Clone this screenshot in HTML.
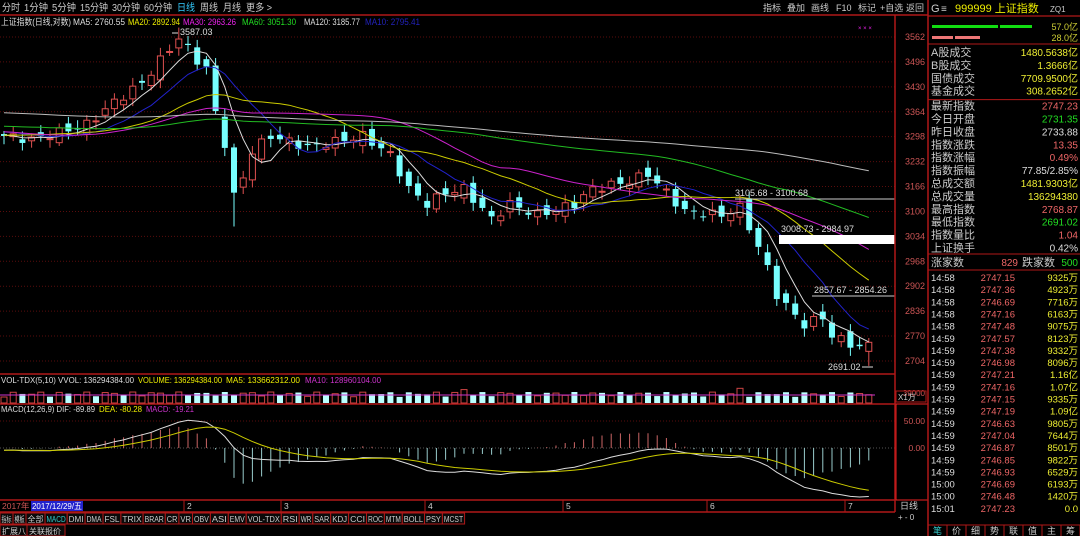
<!DOCTYPE html>
<html><head><meta charset="utf-8"><style>
body{margin:0;background:#000;width:1080px;height:536px;overflow:hidden;font-family:"Liberation Sans","Noto Sans CJK SC",sans-serif;}
svg{position:absolute;left:0;top:0}
text{font-family:"Liberation Sans","Noto Sans CJK SC",sans-serif}
</style></head><body>
<svg id="s" width="1080" height="536" xmlns="http://www.w3.org/2000/svg"></svg>
<script>
var S=[];function a(x){S.push(x)}
function t(x,y,s,c,sz,anc,tl){a('<text x="'+x+'" y="'+y+'" fill="'+c+'" font-size="'+(sz||10)+'"'+(anc?' text-anchor="'+anc+'"':'')+(tl?' textLength="'+tl+'" lengthAdjust="spacingAndGlyphs"':'')+'>'+s+'</text>')}
function l(x1,y1,x2,y2,c,w,d){a('<line x1="'+x1+'" y1="'+y1+'" x2="'+x2+'" y2="'+y2+'" stroke="'+c+'" stroke-width="'+(w||1)+'"'+(d?' stroke-dasharray="'+d+'"':'')+'/>')}
function r(x,y,w,h,f,s){a('<rect x="'+x+'" y="'+y+'" width="'+w+'" height="'+h+'" fill="'+(f||'none')+'"'+(s?' stroke="'+s+'"':'')+'/>')}
var R='#b01818';
var m=[['分时',2,18],['1分钟',24,24],['5分钟',52,24],['15分钟',80,28],['30分钟',112,28],['60分钟',144,28],['日线',177,18],['周线',200,18],['月线',223,18],['更多 >',246,26]];
m.forEach(function(v){t(v[1],11,v[0],v[0]=='日线'?'#3cf':'#ccc',10,null,v[2])});
var btn=['指标','叠加','画线','F10','标记','+自选','返回'];var bx=[763,787,811,836,858,880,906];
btn.forEach(function(b,i){t(bx[i],11,b,'#ccc',9)});
l(0,15,928,15,R,1.5);
t(1,25,'上证指数(日线,对数)','#ddd',9,null,70);t(73,25,'MA5: 2760.55','#ddd',9,null,52);t(128,25,'MA20: 2892.94','#ee0',9,null,52);t(183,25,'MA30: 2963.26','#e2e',9,null,53);t(242,25,'MA60: 3051.30','#2d2',9,null,54);t(304,25,'MA120: 3185.77','#ddd',9,null,56);t(365,25,'MA10: 2795.41','#22b',9,null,55);
t(858,30,'× × ×','#e2e',6);
var Y=function(p){return 37+(3562-p)*0.3776};
[3562,3496,3430,3364,3298,3232,3166,3100,3034,2968,2902,2836,2770,2704].forEach(function(p){var y=Y(p);l(0,y,895,y,'#5a0c0c',1,'1,2');t(925,y+3,p,'#c55',9,'end')});
var key=[[0,3300],[3,3290],[6,3310],[9,3330],[12,3390],[15,3440],[17,3500],[19,3560],[21,3500],[22,3480],[23,3360],[24,3280],[25,3140],[26,3190],[27,3260],[29,3300],[33,3270],[37,3290],[39,3300],[42,3250],[44,3160],[46,3120],[48,3150],[50,3160],[53,3080],[55,3120],[58,3090],[62,3120],[64,3160],[68,3180],[70,3200],[72,3150],[74,3100],[78,3090],[80,3110],[81,3060],[83,2950],[84,2880],[85,2850],[87,2800],[89,2820],[90,2770],[91,2760],[93,2740],[94,2747]];
var N=95,C=[];for(var i=0;i<N;i++){for(var k=0;k<key.length-1;k++){if(i>=key[k][0]&&i<=key[k+1][0]){var f=(i-key[k][0])/(key[k+1][0]-key[k][0]||1);C.push(key[k][1]+(key[k+1][1]-key[k][1])*f+Math.sin(i*2.3)*12);break}}}
var H=[];for(i=0;i<140;i++)H.push(3290+i*1.2+Math.sin(i*0.3)*25);
H=H.reverse();var A=H.concat(C);var O=A.length-N;
function ma(n,i){var s=0;for(var j=i-n+1;j<=i;j++)s+=A[j];return s/n}
var X=function(i){return 4+i*9.2};
for(i=0;i<N;i++){var c=A[O+i],o=A[O+i-1]+Math.cos(i*1.7)*15,hi=Math.max(o,c)+8+Math.abs(Math.sin(i))*14,lo=Math.min(o,c)-8-Math.abs(Math.cos(i*1.3))*14;
if(i==25)lo=3060;if(i==19)hi=3587;if(i==94)lo=2691;
var up=c>=o,col=up?'#e05050':'#7ff';var x=X(i);l(x,Y(hi),x,Y(lo),col);
var y1=Y(Math.max(o,c)),hh=Math.max(1,Y(Math.min(o,c))-y1);
if(up)a('<rect x="'+(x-3)+'" y="'+y1+'" width="6" height="'+hh+'" fill="#000" stroke="'+col+'"/>');else r(x-3,y1,6,hh,col);}
[[5,'#ddd'],[10,'#22c'],[20,'#cc0'],[30,'#c2c'],[60,'#2b2'],[120,'#bbb']].forEach(function(q){var p='';for(i=0;i<N;i++)p+=(i?'L':'M')+X(i).toFixed(1)+','+Y(ma(q[0],O+i)).toFixed(1);a('<path d="'+p+'" fill="none" stroke="'+q[1]+'" stroke-width="1"/>')});
t(180,35,'3587.03','#ddd',9);l(172,33,178,33,'#ddd');
t(828,370,'2691.02','#ddd',9);l(862,367,873,367,'#ddd');
r(779,235,116,9,'#fff');t(781,232,'3008.73 - 2984.97','#ddd',9);
l(735,199,895,199,'#ccc');t(735,196,'3105.68 - 3100.68','#ddd',9);
l(812,296,895,296,'#ccc');t(814,293,'2857.67 - 2854.26','#ddd',9);
l(0,374,895,374,R,1.5);l(0,404,895,404,R,1.5);l(0,500,895,500,R,1.5);l(0,512,895,512,R,1.5);
t(1,383,'VOL-TDX(5,10) VVOL: 136294384.00','#ddd',8.5,null,133);t(138,383,'VOLUME: 136294384.00','#ee0',8.5,null,84);t(226,383,'MA5: 133662312.00','#ee0',8.5,null,74);t(305,383,'MA10: 128960104.00','#c3c',8.5,null,76);
for(i=0;i<N;i++){var up=A[O+i]>=A[O+i-1];var h=6+Math.abs(Math.sin(i*1.9))*5+(i==50||i==80?4:0);if(up)a('<rect x="'+(X(i)-3)+'" y="'+(403-h)+'" width="6" height="'+h+'" fill="none" stroke="#c44"/>');else r(X(i)-3,403-h,6,h,'#bff');}
l(0,395,875,395,'#c3c');t(925,396,'39000','#c55',8,'end');r(896,391,30,11,'none',R);t(898,400,'X1万','#ccc',8);
t(1,412,'MACD(12,26,9) DIF: -89.89','#ddd',8.5,null,94);t(99,412,'DEA: -80.28','#ee0',8.5,null,43);t(146,412,'MACD: -19.21','#c3c',8.5,null,48);
function ema(n){var e=[],k=2/(n+1);e[0]=A[0];for(var j=1;j<A.length;j++)e[j]=A[j]*k+e[j-1]*(1-k);return e}
var e12=ema(12),e26=ema(26),D=[],E=[];for(i=0;i<A.length;i++)D[i]=e12[i]-e26[i];E[0]=D[0];for(i=1;i<A.length;i++)E[i]=D[i]*0.2+E[i-1]*0.8;
var sc=function(v){return 448-v*0.48};
l(0,448,895,448,'#555',1,'1,2');l(0,421,895,421,'#5a0c0c',1,'1,2');
for(i=0;i<N;i++){var v=2*(D[O+i]-E[O+i]);l(X(i),448,X(i),sc(v),v>=0?'#c66':'#9cc')}
var p1='',p2='';for(i=0;i<N;i++){p1+=(i?'L':'M')+X(i).toFixed(1)+','+sc(D[O+i]).toFixed(1);p2+=(i?'L':'M')+X(i).toFixed(1)+','+sc(E[O+i]).toFixed(1)}
a('<path d="'+p1+'" fill="none" stroke="#ddd"/>');a('<path d="'+p2+'" fill="none" stroke="#cc0"/>');
t(925,424,'50.00','#c55',8.5,'end');t(925,451,'0.00','#c55',8.5,'end');r(896,404,32,96,'none','#e22');
t(2,509,'2017年','#c55',8.5);r(31,501,52,10,'#22c');t(32,509,'2017/12/29/五','#fff',8.5,null,50);
[[184,'2'],[281,'3'],[425,'4'],[563,'5'],[707,'6'],[845,'7']].forEach(function(q){l(q[0],500,q[0],512,R);t(q[0]+3,509,q[1],'#ccc',8.5)});
t(900,509,'日线','#ccc',9);t(898,520,'+ - 0','#ccc',8);
var tb=['指标','模板','全部','MACD','DMI','DMA','FSL','TRIX','BRAR','CR','VR','OBV','ASI','EMV','VOL-TDX','RSI','WR','SAR','KDJ','CCI','ROC','MTM','BOLL','PSY','MCST'];
var tx=0;tb.forEach(function(s){var cj=s.charCodeAt(0)>255;var w=cj?s.length*6.5:s.length*4.3+5;if(s=='全部')w=19;r(tx,513,w,11,'#0a0a0a',R);t(tx+1.5,522,s,s=='MACD'?'#3cc':'#ccc',8,null,w-3);tx+=w});
r(0,525,27,11,'#0a0a0a',R);t(2,534,'扩展八','#ccc',8);r(27,525,38,11,'#0a0a0a',R);t(29,534,'关联报价','#ccc',8);
l(895,15,895,512,R,1.5);l(928,0,928,536,R,1.5);
t(931,12,'G','#ccc',11);t(941,12,'≡','#ccc',10);t(955,12,'999999 上证指数','#ee0',11);t(1050,12,'ZQ1','#ccc',8);
l(928,16,1080,16,R,1.2);
r(932,25,66,3,'#1d1');r(1000,25,32,3,'#1d1');r(932,36,21,3,'#e77');r(955,36,25,3,'#e77');
t(1078,30,'57.0亿','#cc3',9,'end');t(1078,41,'28.0亿','#cc3',9,'end');l(928,44,1080,44,R);
var rows=[['A股成交','1480.5638亿','#ee3'],['B股成交','1.3666亿','#ee3'],['国债成交','7709.9500亿','#ee3'],['基金成交','308.2652亿','#ee3'],null,['最新指数','2747.23','#e66'],['今日开盘','2731.35','#2d2'],['昨日收盘','2733.88','#ddd'],['指数涨跌','13.35','#e66'],['指数涨幅','0.49%','#e66'],['指数振幅','77.85/2.85%','#ddd'],['总成交额','1481.9303亿','#ee3'],['总成交量','136294380','#ee3'],['最高指数','2768.87','#e66'],['最低指数','2691.02','#2d2'],['指数量比','1.04','#e66'],['上证换手','0.42%','#ddd']];
var yy=56;rows.forEach(function(q){if(!q){l(928,yy-8,1080,yy-8,R);yy+=2;return}t(931,yy,q[0],'#ccc',11);t(1078,yy,q[1],q[2],10,'end');yy+=12.9});
l(928,254,1080,254,R);t(931,266,'涨家数','#ccc',11);t(1018,266,'829','#e66',10,'end');t(1022,266,'跌家数','#ccc',11);t(1078,266,'500','#2d2',10,'end');l(928,270,1080,270,R);
var tr=[['14:58','2747.15','9325万'],['14:58','2747.36','4923万'],['14:58','2746.69','7716万'],['14:58','2747.16','6163万'],['14:58','2747.48','9075万'],['14:59','2747.57','8123万'],['14:59','2747.38','9332万'],['14:59','2746.98','8096万'],['14:59','2747.21','1.16亿'],['14:59','2747.16','1.07亿'],['14:59','2747.15','9335万'],['14:59','2747.19','1.09亿'],['14:59','2746.63','9805万'],['14:59','2747.04','7644万'],['14:59','2746.87','8501万'],['14:59','2746.85','9822万'],['14:59','2746.93','6529万'],['15:00','2746.69','6193万'],['15:00','2746.48','1420万'],['15:01','2747.23','0.0']];
tr.forEach(function(q,i){var y=281+i*12.15;t(931,y,q[0],'#ddd',9.5);t(1015,y,q[1],'#e66',9.5,'end');t(1078,y,q[2],'#ee3',9.5,'end')});
l(928,525,1080,525,R);['笔','价','细','势','联','值','主','筹'].forEach(function(s,i){t(933+i*19,534,s,i?'#ccc':'#3cc',9);l(947+i*19,525,947+i*19,536,R)});
document.getElementById('s').innerHTML=S.join('');
</script>
</body></html>
